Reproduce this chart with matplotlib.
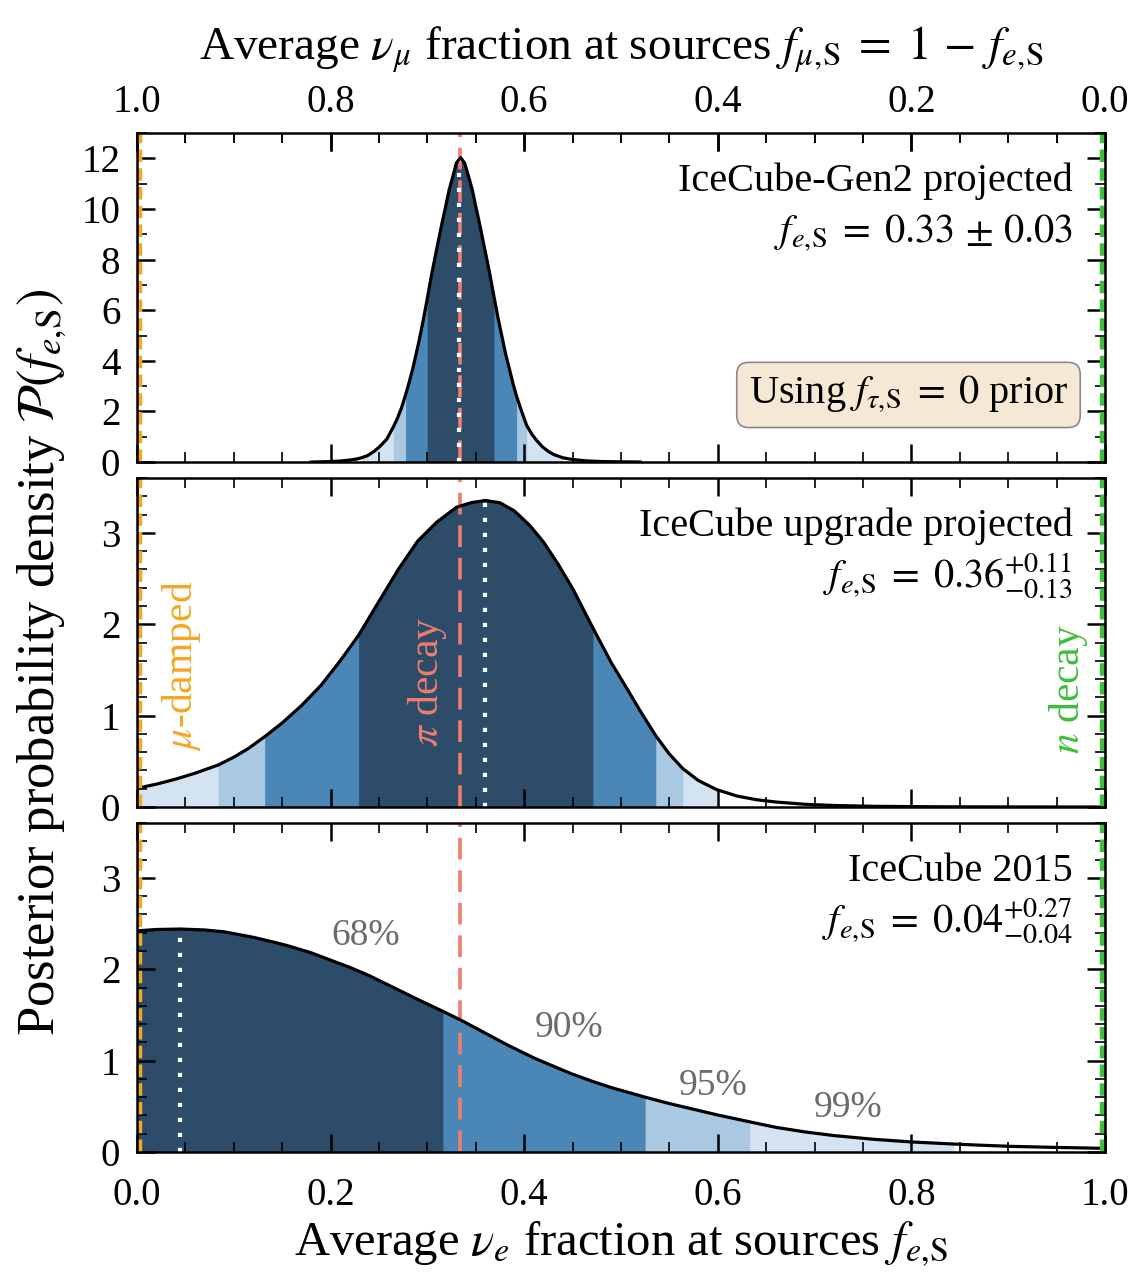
"""
Posterior of the average nu_e fraction at the sources, three detector configurations.
"""

import numpy as np
import matplotlib
matplotlib.use("Agg")
import matplotlib.pyplot as plt
from matplotlib.ticker import MultipleLocator, FormatStrFormatter, FixedLocator

# --- valores -----------------------------------------------------------------
# IceCube-Gen2 (painel de cima)
gen2_x = [0.18, 0.19, 0.20, 0.21, 0.22, 0.227, 0.232, 0.238, 0.245, 0.251,
          0.258, 0.2648, 0.269, 0.2734, 0.2775, 0.281, 0.285, 0.288, 0.2917, 0.296,
          0.2999, 0.3044, 0.308, 0.312, 0.3155, 0.319, 0.3225, 0.3265, 0.330, 0.3344,
          0.3385, 0.3425, 0.3465, 0.350, 0.3535, 0.357, 0.361, 0.3647, 0.3688, 0.373,
          0.3778, 0.381, 0.385, 0.3885, 0.3922, 0.3957, 0.3995, 0.4026, 0.408, 0.413,
          0.419, 0.425, 0.431, 0.437, 0.44, 0.447, 0.455, 0.465, 0.48, 0.50, 0.52]
gen2_y = [0.0, 0.01, 0.02, 0.04, 0.08, 0.12, 0.17, 0.25, 0.42, 0.62,
          0.90, 1.38, 1.72, 2.15, 2.65, 3.12, 3.70, 4.20, 4.83, 5.65,
          6.45, 7.40, 8.10, 8.85, 9.50, 10.11, 10.75, 11.30, 11.82, 12.03,
          11.82, 11.30, 10.75, 10.11, 9.50, 8.85, 8.10, 7.40, 6.55, 5.70,
          4.83, 4.25, 3.65, 3.10, 2.60, 2.19, 1.78, 1.45, 1.10, 0.85,
          0.60, 0.42, 0.29, 0.21, 0.17, 0.12, 0.08, 0.045, 0.02, 0.01, 0.0]

# IceCube upgrade (painel do meio)
upg_x = [0.0, 0.02, 0.04, 0.06, 0.084, 0.10, 0.115, 0.132, 0.15, 0.17,
         0.19, 0.21, 0.229, 0.25, 0.27, 0.29, 0.31, 0.33, 0.345, 0.36,
         0.375, 0.39, 0.406, 0.42, 0.435, 0.4507, 0.471, 0.49, 0.506, 0.52,
         0.536, 0.55, 0.564, 0.58, 0.599, 0.62, 0.64, 0.66, 0.69, 0.72,
         0.76, 0.82, 0.90, 1.0]
upg_y = [0.205, 0.25, 0.305, 0.37, 0.46, 0.545, 0.64, 0.77, 0.92, 1.11,
         1.33, 1.60, 1.88, 2.25, 2.60, 2.91, 3.12, 3.28, 3.33, 3.355,
         3.33, 3.24, 3.08, 2.90, 2.66, 2.38, 1.96, 1.58, 1.30, 1.05,
         0.78, 0.58, 0.42, 0.29, 0.19, 0.12, 0.08, 0.055, 0.03, 0.017,
         0.008, 0.003, 0.001, 0.0]

# IceCube 2015 (painel de baixo)
ic15_x = [0.0, 0.02, 0.045, 0.07, 0.09, 0.12, 0.14, 0.155, 0.18, 0.20,
          0.22, 0.24, 0.265, 0.29, 0.316, 0.337, 0.36, 0.383, 0.41, 0.43,
          0.448, 0.47, 0.49, 0.525, 0.55, 0.578, 0.60, 0.633, 0.66, 0.69,
          0.72, 0.76, 0.80, 0.844, 0.87, 0.902, 0.95, 1.0]
ic15_y = [2.42, 2.435, 2.44, 2.43, 2.41, 2.35, 2.30, 2.26, 2.18, 2.10,
          2.02, 1.93, 1.80, 1.67, 1.54, 1.43, 1.30, 1.17, 1.03, 0.94,
          0.86, 0.775, 0.705, 0.60, 0.53, 0.46, 0.405, 0.33, 0.27, 0.22,
          0.18, 0.14, 0.11, 0.087, 0.075, 0.062, 0.05, 0.04]

# intervalos de credibilidade: ordem 99%, 95%, 90%, 68%
gen2_lo = [0.232, 0.2648, 0.2775, 0.2999]
gen2_hi = [0.44, 0.4026, 0.3922, 0.3688]
upg_lo = [0.0, 0.084, 0.132, 0.229]
upg_hi = [0.599, 0.564, 0.536, 0.471]
ic15_lo = [0.0, 0.0, 0.0, 0.0]
ic15_hi = [0.844, 0.633, 0.525, 0.316]

# melhor ajuste (linha pontilhada branca) e altura da curva nesse ponto
best_fit = [0.333, 0.36, 0.044]
best_height = [12.0, 3.355, 2.44]

panel_titles = ["IceCube-Gen2 projected", "IceCube upgrade projected", "IceCube 2015"]
panel_values = [r"$f_{e,\!\mathrm{S}}\;=\;0.33\,\pm\,0.03$",
                r"$f_{e,\!\mathrm{S}}\;=\;0.36^{+0.11}_{-0.13}$",
                r"$f_{e,\!\mathrm{S}}\;=\;0.04^{+0.27}_{-0.04}$"]

pct_x = [0.236, 0.446, 0.595, 0.735]
pct_y = [2.37, 1.36, 0.72, 0.48]
pct_labels = ["68%", "90%", "95%", "99%"]

top_ticks = [1.0, 0.8, 0.6, 0.4, 0.2, 0.0]

band_colors = ["#d3e3f2", "#a9c8e2", "#4b87b6", "#2c4c6a"]
salmon = "#f07e6c"
orange = "#f5a623"
green = "#3cbf3c"

plt.rcParams["font.family"] = "serif"
plt.rcParams["font.serif"] = ["Liberation Serif", "DejaVu Serif"]
plt.rcParams["mathtext.fontset"] = "stix"


def desenhar_painel(ax, x, y, lo, hi, xbest, ybest, ymax):
    x = np.asarray(x)
    y = np.asarray(y)
    for cor, a, b in zip(band_colors, lo, hi):
        ax.fill_between(x, 0, y, where=(x >= a - 1e-9) & (x <= b + 1e-9),
                        color=cor, lw=0, zorder=1)
    ax.axvline(1 / 3, color=salmon, lw=2.6, dashes=(6, 3), zorder=3)
    ax.vlines(xbest, 0, ybest, colors="white", lw=3.0,
              linestyles=(0, (1.0, 2.6)), zorder=3.5)
    ax.plot(x, y, color="k", lw=2.3, zorder=4, solid_joinstyle="round")
    # linhas de referência nas bordas (metade recortada pelo eixo)
    ax.axvline(0, color=orange, lw=7.5, dashes=(1.2, 0.6), zorder=5)
    ax.axvline(1, color=green, lw=7.5, dashes=(1.2, 0.6), zorder=5)
    ax.set_xlim(0, 1)
    ax.set_ylim(0, ymax)
    ax.xaxis.set_major_locator(MultipleLocator(0.2))
    ax.xaxis.set_minor_locator(MultipleLocator(0.05))
    ax.tick_params(which="both", direction="in", top=True, right=True, labelsize=28)
    ax.tick_params(axis="y", pad=12)
    ax.tick_params(axis="x", pad=18)
    ax.tick_params(which="major", length=13, width=1.8)
    ax.tick_params(which="minor", length=7, width=1.2)
    for s in ax.spines.values():
        s.set_linewidth(1.8)
        s.set_zorder(6)


def main():
    fig = plt.figure(figsize=(11.41, 12.81), dpi=100)
    left, width, height = 0.120, 0.8484, 0.2568
    ax1 = fig.add_axes([left, 0.6393, width, height])
    ax2 = fig.add_axes([left, 0.3700, width, height], sharex=ax1)
    ax3 = fig.add_axes([left, 0.1007, width, height], sharex=ax1)

    desenhar_painel(ax1, gen2_x, gen2_y, gen2_lo, gen2_hi, best_fit[0], best_height[0], 13)
    desenhar_painel(ax2, upg_x, upg_y, upg_lo, upg_hi, best_fit[1], best_height[1], 3.6)
    desenhar_painel(ax3, ic15_x, ic15_y, ic15_lo, ic15_hi, best_fit[2], best_height[2], 3.6)

    ax1.yaxis.set_major_locator(MultipleLocator(2))
    ax1.yaxis.set_minor_locator(MultipleLocator(1))
    for ax in (ax2, ax3):
        ax.yaxis.set_major_locator(MultipleLocator(1))
        ax.yaxis.set_minor_locator(MultipleLocator(0.2))
    ax1.tick_params(labelbottom=False)
    ax2.tick_params(labelbottom=False)
    ax3.xaxis.set_major_formatter(FormatStrFormatter("%.1f"))

    # eixo superior: fração de nu_mu = 1 - f_e
    sec = ax1.secondary_xaxis("top", functions=(lambda v: 1 - v, lambda v: 1 - v))
    sec.xaxis.set_major_locator(FixedLocator(top_ticks))
    sec.xaxis.set_minor_locator(MultipleLocator(0.05))
    sec.xaxis.set_major_formatter(FormatStrFormatter("%.1f"))
    sec.tick_params(which="both", direction="in", labelsize=28, pad=8.5)
    sec.tick_params(which="major", length=13, width=1.8)
    sec.tick_params(which="minor", length=7, width=1.2)
    sec.set_xlabel(r"Average $\nu_\mu$ fraction at sources $f_{\mu,\!\mathrm{S}}\;=\;1\,-\,f_{e,\!\mathrm{S}}$",
                   fontsize=34, labelpad=18)

    ax3.set_xlabel(r"Average $\nu_e$ fraction at sources $f_{e,\!\mathrm{S}}$", fontsize=35, labelpad=4)
    fig.text(0.036, 0.483, r"Posterior probability density $\mathcal{P}(f_{e,\!\mathrm{S}})$",
             rotation=90, ha="center", va="center", fontsize=38)

    for ax, titulo, valor in zip((ax1, ax2, ax3), panel_titles, panel_values):
        ax.text(0.967, 0.823, titulo, transform=ax.transAxes, ha="right",
                va="baseline", fontsize=29, zorder=7)
        ax.text(0.967, 0.668, valor, transform=ax.transAxes, ha="right",
                va="baseline", fontsize=29, zorder=7)

    ax1.text(0.962, 0.204, r"Using $f_{\tau,\!\mathrm{S}}\;=\;0$ prior", transform=ax1.transAxes,
             ha="right", va="center", fontsize=29, zorder=7,
             bbox=dict(boxstyle="round,pad=0.3", fc="#f5e8d4", ec="#8a8a8a", lw=1.2))

    ax2.text(0.046, 1.55, r"$\mu$-damped", color=orange, rotation=90,
             ha="center", va="center", fontsize=30, zorder=7)
    ax2.text(0.30, 1.37, r"$\pi$ decay", color=salmon, rotation=90,
             ha="center", va="center", fontsize=30, zorder=7)
    ax2.text(0.962, 1.29, r"$n$ decay", color=green, rotation=90,
             ha="center", va="center", fontsize=30, zorder=7)

    for px, py, rotulo in zip(pct_x, pct_y, pct_labels):
        ax3.text(px, py, rotulo, color="#6b6b6b", ha="center", va="center",
                 fontsize=27, zorder=7)

    fig.savefig("out.png", dpi=100)


if __name__ == "__main__":
    main()
